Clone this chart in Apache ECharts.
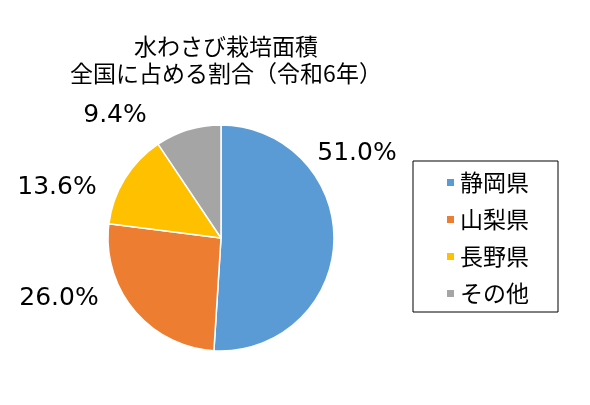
<!DOCTYPE html>
<html>
<head>
<meta charset="utf-8">
<script src="https://cdn.jsdelivr.net/npm/echarts@6/dist/echarts.min.js"></script>
<style>
  html, body { margin: 0; padding: 0; background: #fff; }
  #main { width: 590px; height: 405px; }
</style>
</head>
<body>
<div id="main"></div>
<script>
// データ
var categories = ['静岡県', '山梨県', '長野県', 'その他'];
var shares = [51.0, 26.0, 13.6, 9.4];
var colors = ['#5B9BD5', '#ED7D31', '#FFC000', '#A5A5A5'];

// ラベル位置（Excel の手動配置に合わせる）
var labelPos = [[357, 153], [59, 298], [57, 187], [115, 115]];

var chart = echarts.init(document.getElementById('main'));
var font = '"Noto Sans CJK JP", "Noto Sans", sans-serif';

option = {
  color: colors,
  title: {
    text: '水わさび栽培面積\n全国に占める割合（令和6年）',
    left: 221,
    top: 28,
    textAlign: 'center',
    textStyle: {
      fontFamily: font,
      fontSize: 23,
      fontWeight: 'normal',
      color: '#000',
      lineHeight: 27
    }
  },
  legend: {
    orient: 'vertical',
    left: 413,
    top: 161,
    itemWidth: 9,
    itemHeight: 9,
    itemGap: 14,
    icon: 'rect',
    padding: [10, 29, 7, 32],
    borderColor: '#000',
    borderWidth: 1,
    textStyle: {
      fontFamily: font,
      fontSize: 23,
      color: '#000'
    },
    data: categories
  },
  series: [
    {
      type: 'pie',
      center: [221, 238],
      radius: 113,
      startAngle: 90,
      clockwise: true,
      animation: false,
      itemStyle: { borderColor: '#fff', borderWidth: 1.5 },
      label: {
        show: true,
        position: 'outside',
        overflow: 'none',
        formatter: function (p) { return p.value.toFixed(1) + '%'; },
        fontFamily: '"DejaVu Sans", sans-serif',
        fontSize: 25,
        color: '#000'
      },
      labelLine: { show: false },
      labelLayout: function (params) {
        var pt = labelPos[params.dataIndex];
        return { x: pt[0], y: pt[1], align: 'center', verticalAlign: 'middle', width: 120 };
      },
      data: categories.map(function (c, i) {
        return { name: c, value: shares[i] };
      })
    }
  ]
};

chart.setOption(option);
</script>
</body>
</html>
